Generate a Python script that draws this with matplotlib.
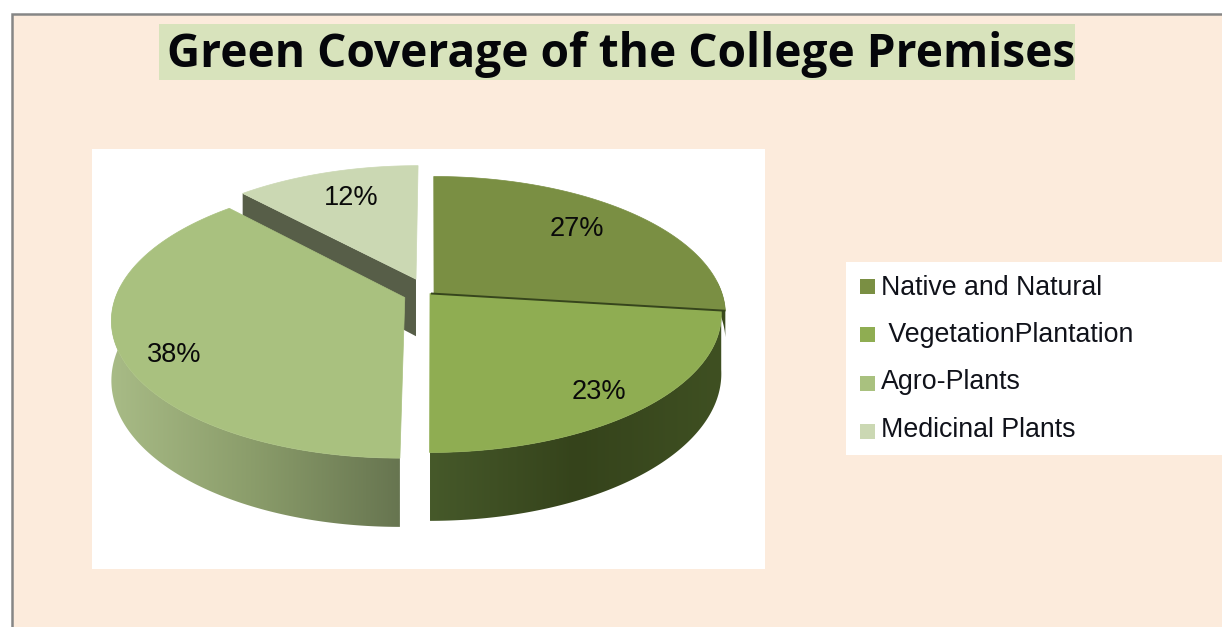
import numpy as np
import matplotlib
matplotlib.use("Agg")
import matplotlib.pyplot as plt
from matplotlib.colors import LinearSegmentedColormap
from matplotlib.patches import Polygon, Rectangle

# Chart data
title = "Green Coverage of the College Premises"
legend_labels = ["Native and Natural", " VegetationPlantation", "Agro-Plants", "Medicinal Plants"]
shares = [27, 23, 38, 12]

# Slice colours
top_colors = ["#7a8f43", "#8fad52", "#a9c17f", "#cbd8b3"]
side_colors = [["#3a4a1c", "#3a4a1c"], ["#46592a", "#35431b", "#3f5022"], ["#a8bb86", "#8a9c6a", "#677550"], ["#575e48", "#575e48"]]
offsets = [(0.007, 0.0), (-0.007, 0.0), (-0.094, -0.03), (-0.0565, 0.108)]
wall_depth = [0.45, 1.0, 1.0, 1.0]

# Perspective of the disc, in pixels
X0, Y0 = 432, 293.5
A, B, K, H = 288, 134.8, 0.152, 58


def project(u, v, z=0.0):
    d = 1 + K * v
    return X0 + A * u / d, Y0 - B * v / d + H * z / d


def rim(a0, a1, du, dv, z=0.0, n=160):
    t = np.radians(np.linspace(a0, a1, n))
    return project(np.sin(t) + du, np.cos(t) + dv, z)


fig = plt.figure(figsize=(12.22, 6.27), dpi=100, facecolor="white")
ax = fig.add_axes([0, 0, 1, 1])
ax.axis("off")

# Background panels
ax.add_patch(Rectangle((11.5, 13.5), 1230, 640, fc="#fcebdc", ec="#868686", lw=1.8, zorder=1))
ax.add_patch(Rectangle((159, 24), 916, 56, fc="#d8e3bc", ec="none", zorder=1))
ax.add_patch(Rectangle((92, 149), 673, 420, fc="white", ec="none", zorder=1))
ax.add_patch(Rectangle((846, 262), 380, 193, fc="white", ec="none", zorder=1))

ax.text(621.5, 54, title, ha="center", va="center", fontsize=33.1, fontweight="bold",
        family="Open Sans", color="#05060a", zorder=20)

# Cumulative angles, clockwise from the top
ends = np.cumsum(shares) * 3.6
starts = ends - np.array(shares) * 3.6


def draw_slice(i, z):
    du, dv = offsets[i]
    a0, a1 = starts[i], ends[i]
    apex = project(du, dv)

    # Only the front of the rim shows a wall; shade it from left to right
    w0, w1 = max(a0, 85), min(a1, 275)
    if w1 > w0:
        xt, yt = rim(w0, w1, du, dv)
        xb, yb = rim(w0, w1, du, dv, z=wall_depth[i])
        outline = np.column_stack([np.r_[xt, xb[::-1]], np.r_[yt, yb[::-1]]])
        cmap = LinearSegmentedColormap.from_list("wall", side_colors[i])
        im = ax.imshow(np.linspace(0, 1, 256)[None, :], cmap=cmap, aspect="auto", vmin=0, vmax=1, zorder=z,
                       extent=(outline[:, 0].min(), outline[:, 0].max(), outline[:, 1].max(), outline[:, 1].min()))
        im.set_clip_path(Polygon(outline, transform=ax.transData))

    xr, yr = rim(a0, a1, du, dv)

    # Cut face of the small slice that sits behind the others
    if i == 3:
        xl, yl = project(np.sin(np.radians(a0)) + du, np.cos(np.radians(a0)) + dv, 1.0)
        ax.add_patch(Polygon([apex, (xr[0], yr[0]), (xl, yl), project(du, dv, 1.0)],
                             fc=side_colors[i][0], ec="none", zorder=z))

    ax.add_patch(Polygon([apex] + list(zip(xr, yr)), fc=top_colors[i], ec=top_colors[i], lw=0.5, zorder=z + 0.5))


# Back to front
for z, i in enumerate([3, 0, 1, 2], start=2):
    draw_slice(i, z)

# Dark seam between the two joined slices
sx, sy = rim(ends[0], ends[0], *offsets[0], n=1)
ax.plot([project(*offsets[0])[0] - 3, sx[0]], [project(*offsets[0])[1], sy[0]], color="#36451c", lw=1.4,
        solid_capstyle="butt", zorder=10)

# Percentage labels
label_xy = [(577, 229), (599, 392), (174, 355), (351, 198)]
for (x, y), v in zip(label_xy, shares):
    ax.text(x, y, f"{v}%", ha="center", va="center", fontsize=19.5, family="Liberation Sans", color="#0a0a0a", zorder=20)

# Legend
swatch_y = [279, 327, 376, 424]
text_y = [288, 335, 382, 430]
for lab, c, sy_, ty in zip(legend_labels, top_colors, swatch_y, text_y):
    ax.add_patch(Rectangle((860, sy_), 15, 15, fc=c, ec="none", zorder=2))
    ax.text(881, ty, lab, ha="left", va="center", fontsize=19.3, family="Liberation Sans", color="#10121a", zorder=20)

ax.set_xlim(0, 1222)
ax.set_ylim(627, 0)

fig.savefig("out.png", dpi=100)
plt.close(fig)
